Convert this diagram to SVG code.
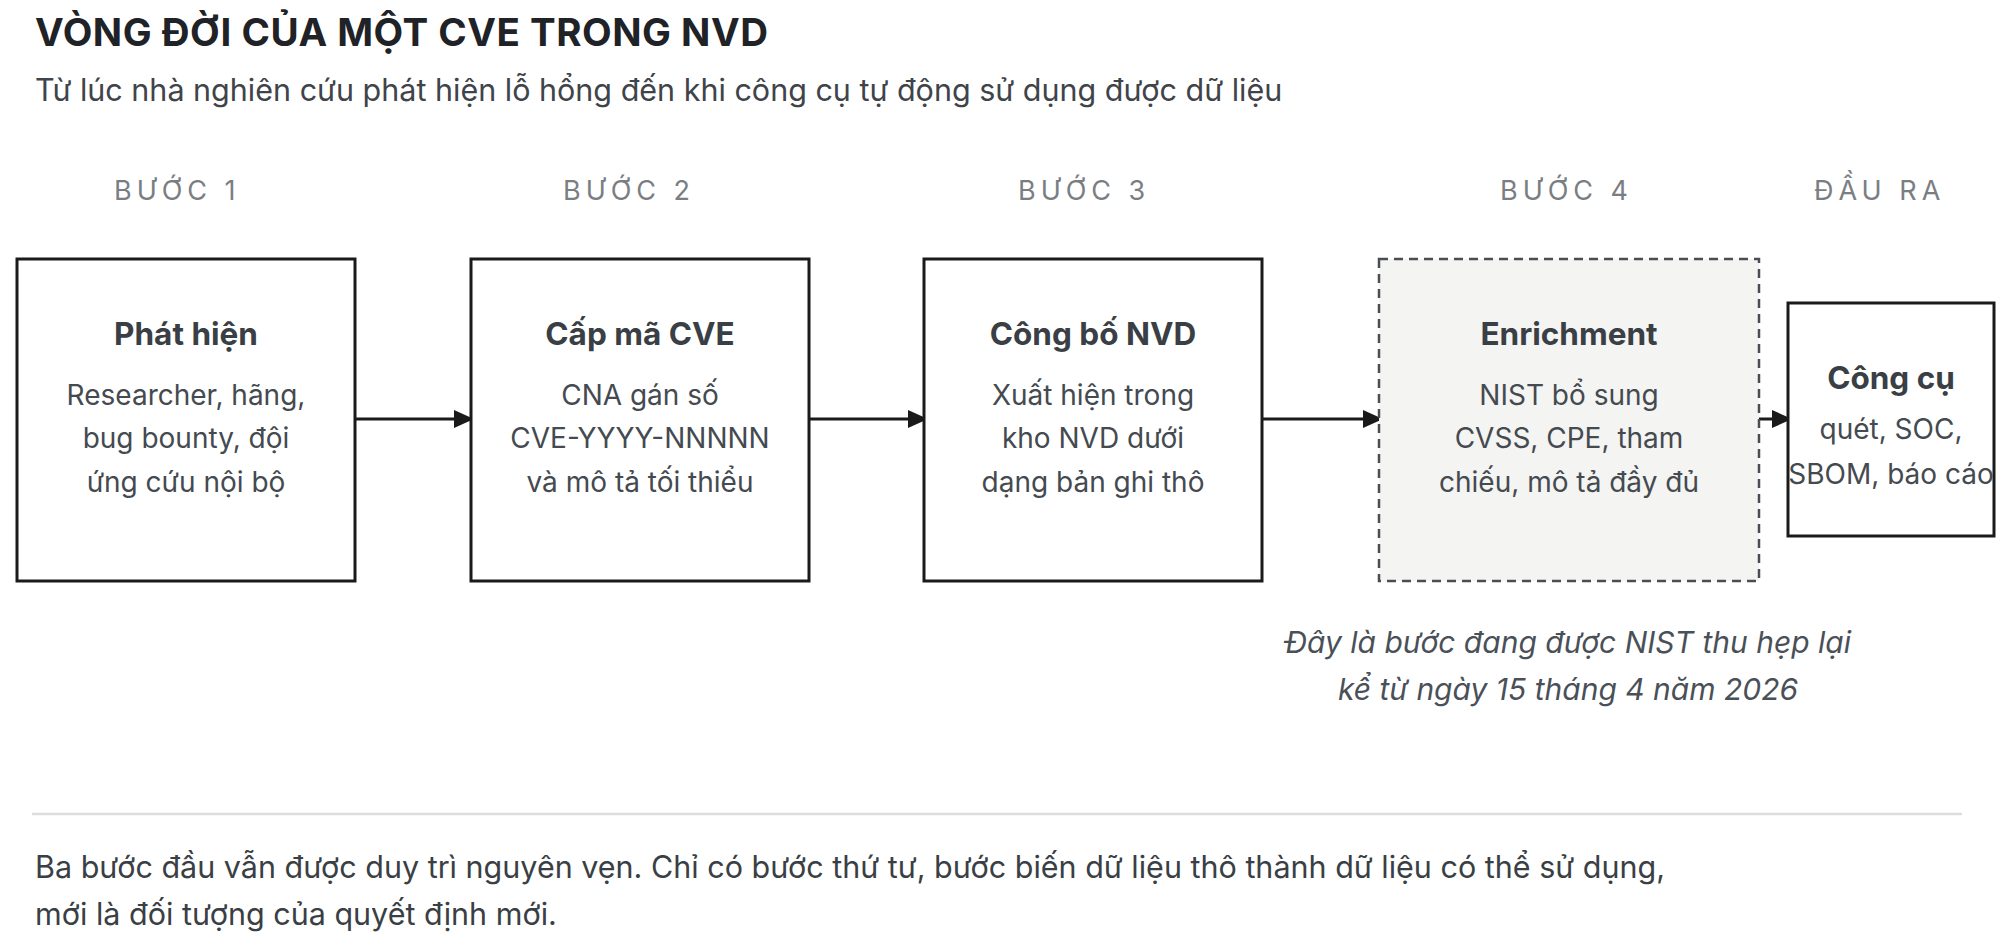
<svg xmlns="http://www.w3.org/2000/svg" width="2007" height="947" viewBox="0 0 2007 947">
<style>
text{font-family:Inter,"Noto Sans","Liberation Sans",sans-serif}
.title{font-size:38.5px;font-weight:700;fill:#1f2226;letter-spacing:0.5px}
.sub{font-size:30.5px;fill:#3f444a}
.step{font-size:27px;fill:#7a7e83;letter-spacing:5px}
.box{fill:#fff;stroke:#1a1a1a;stroke-width:3}
.dbox{fill:#f4f4f2;stroke:#4a4e54;stroke-width:2.5;stroke-dasharray:9 6}
.h{font-size:31.5px;font-weight:700;fill:#3a3f45;text-anchor:middle}
.b{font-size:28px;fill:#444a50;text-anchor:middle}
.note{font-size:30px;font-style:italic;fill:#4a5058;text-anchor:middle}
.para{font-size:30.5px;fill:#3a3f45}
.conn{stroke:#1a1a1a;stroke-width:3;fill:none}
</style>
<defs>
<marker id="ah" markerWidth="20" markerHeight="18" refX="20" refY="9" orient="auto" markerUnits="userSpaceOnUse" viewBox="0 0 20 18">
<path d="M0,0 L20,9 L0,18 z" fill="#1a1a1a"/>
</marker>
<clipPath id="c5"><rect x="1787" y="302" width="208" height="235"/></clipPath>
</defs>
<text class="title" x="35" y="46">VÒNG ĐỜI CỦA MỘT CVE TRONG NVD</text>
<text class="sub" x="35" y="101">Từ lúc nhà nghiên cứu phát hiện lỗ hổng đến khi công cụ tự động sử dụng được dữ liệu</text>

<g id="labels">
<text class="step" x="114" y="200">BƯỚC 1</text>
<text class="step" x="563" y="200">BƯỚC 2</text>
<text class="step" x="1018" y="200">BƯỚC 3</text>
<text class="step" x="1500" y="200">BƯỚC 4</text>
<text class="step" x="1814" y="200">ĐẦU RA</text>
</g>

<g id="connectors">
<line class="conn" x1="355" y1="419" x2="474" y2="419" marker-end="url(#ah)"/>
<line class="conn" x1="809" y1="419" x2="928" y2="419" marker-end="url(#ah)"/>
<line class="conn" x1="1262" y1="419" x2="1383" y2="419" marker-end="url(#ah)"/>
<line class="conn" x1="1759" y1="419" x2="1792" y2="419" marker-end="url(#ah)"/>
</g>

<g id="node1">
<rect class="box" x="17" y="259" width="338" height="322"/>
<text class="h" x="186" y="345">Phát hiện</text>
<text class="b" x="186" y="405">Researcher, hãng,</text>
<text class="b" x="186" y="448">bug bounty, đội</text>
<text class="b" x="186" y="492">ứng cứu nội bộ</text>
</g>
<g id="node2">
<rect class="box" x="471" y="259" width="338" height="322"/>
<text class="h" x="640" y="345">Cấp mã CVE</text>
<text class="b" x="640" y="405">CNA gán số</text>
<text class="b" x="640" y="448">CVE-YYYY-NNNNN</text>
<text class="b" x="640" y="492">và mô tả tối thiểu</text>
</g>
<g id="node3">
<rect class="box" x="924" y="259" width="338" height="322"/>
<text class="h" x="1093" y="345">Công bố NVD</text>
<text class="b" x="1093" y="405">Xuất hiện trong</text>
<text class="b" x="1093" y="448">kho NVD dưới</text>
<text class="b" x="1093" y="492">dạng bản ghi thô</text>
</g>
<g id="node4">
<rect class="dbox" x="1379" y="259" width="380" height="322"/>
<text class="h" x="1569" y="345">Enrichment</text>
<text class="b" x="1569" y="405">NIST bổ sung</text>
<text class="b" x="1569" y="448">CVSS, CPE, tham</text>
<text class="b" x="1569" y="492">chiếu, mô tả đầy đủ</text>
</g>
<g id="node5">
<rect class="box" x="1788" y="303" width="206" height="233"/>
<g clip-path="url(#c5)">
<text class="h" x="1891" y="389">Công cụ</text>
<text class="b" x="1891" y="439">quét, SOC,</text>
<text class="b" x="1891" y="484">SBOM, báo cáo</text>
</g>
</g>

<g id="note">
<text class="note" x="1568" y="653">Đây là bước đang được NIST thu hẹp lại</text>
<text class="note" x="1568" y="700">kể từ ngày 15 tháng 4 năm 2026</text>
</g>

<line x1="32" y1="814" x2="1962" y2="814" stroke="#dddddd" stroke-width="2.5"/>
<text class="para" x="35" y="878">Ba bước đầu vẫn được duy trì nguyên vẹn. Chỉ có bước thứ tư, bước biến dữ liệu thô thành dữ liệu có thể sử dụng,</text>
<text class="para" x="35" y="925">mới là đối tượng của quyết định mới.</text>
</svg>
